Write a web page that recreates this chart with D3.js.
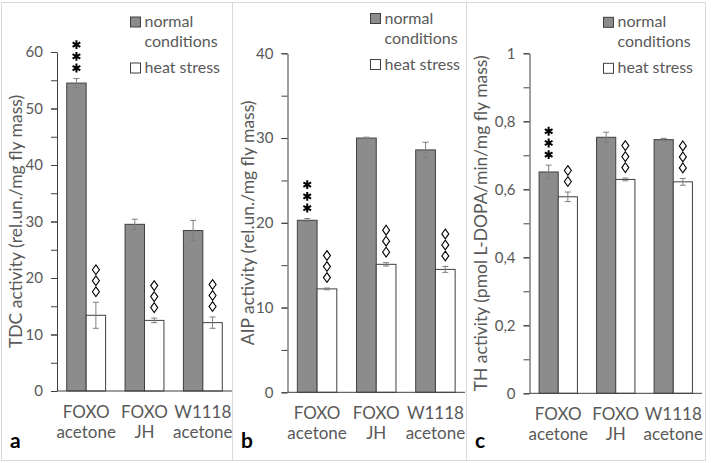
<!DOCTYPE html>
<html>
<head>
<meta charset="utf-8">
<script src="https://cdn.jsdelivr.net/npm/d3@7"></script>
<style>
	body { margin: 0; background: #fff; }
	svg { display: block; font-family: Lato, sans-serif; }
</style>
</head>
<body>
<svg id="chart" width="711" height="463"></svg>
<script>
let groups = ['FOXO acetone', 'FOXO JH', 'W1118 acetone'];
let groupTop = ['FOXO', 'FOXO', 'W1118'];
let groupBottom = ['acetone', 'JH', 'acetone'];
let conditions = ['normal', 'heat'];

// TDC
let tdcNormal = [54.5, 29.5, 28.4];
let tdcNormalErr = [0.8, 0.9, 1.8];
let tdcHeat = [13.4, 12.5, 12.1];
let tdcHeatErr = [2.3, 0.4, 1.0];
let tdcTicks = [0, 10, 20, 30, 40, 50, 60];

// AIP
let aipNormal = [20.3, 30.0, 28.6];
let aipNormalErr = [0.2, 0.1, 0.9];
let aipHeat = [12.2, 15.1, 14.5];
let aipHeatErr = [0.1, 0.2, 0.35];
let aipTicks = [0, 10, 20, 30, 40];

// TH
let thNormal = [0.651, 0.753, 0.746];
let thNormalErr = [0.02, 0.015, 0.004];
let thHeat = [0.578, 0.629, 0.622];
let thHeatErr = [0.014, 0.004, 0.01];
let thTicks = [0, 0.2, 0.4, 0.6, 0.8, 1];

// significance marks: stars vs. FOXO acetone normal, diamonds vs. normal conditions
let starsNormal = [3, 0, 0];
let diamondsTdc = [3, 3, 3];
let diamondsAip = [3, 3, 3];
let diamondsTh = [2, 3, 3];

let panels = [
	{letter: 'a', label: 'TDC activity (rel.un./mg fly mass)',
		normal: tdcNormal, normalErr: tdcNormalErr, heat: tdcHeat, heatErr: tdcHeatErr,
		ticks: tdcTicks, minor: 5, diamonds: diamondsTdc, fmt: d => d,
		box: [1.5, 232.5], left: 57, right: 232, top: 52, bottom: 391, labelX: 21.5,
		legend: [130.5, 17]},
	{letter: 'b', label: 'AIP activity (rel.un./mg fly mass)',
		normal: aipNormal, normalErr: aipNormalErr, heat: aipHeat, heatErr: aipHeatErr,
		ticks: aipTicks, minor: 5, diamonds: diamondsAip, fmt: d => d,
		box: [232.5, 466.5], left: 287.5, right: 465, top: 53.3, bottom: 392.3, labelX: 254,
		legend: [370.5, 13.5]},
	{letter: 'c', label: 'TH activity (pmol L-DOPA/min/mg fly mass)',
		normal: thNormal, normalErr: thNormalErr, heat: thHeat, heatErr: thHeatErr,
		ticks: thTicks, minor: 0.1, diamonds: diamondsTh, fmt: d => String(d).replace('.', ','),
		box: [466.5, 705.5], left: 529.5, right: 702, top: 53.3, bottom: 393.3, labelX: 487,
		legend: [603.5, 17.3]}
];

let svg = d3.select('#chart');
let textColor = '#595959';
let fills = {normal: '#8c8c8c', heat: '#ffffff'};

let lozenge = {
	draw: function(ctx, size) {
		let h = Math.sqrt(size);
		let w = h * 0.36;
		ctx.moveTo(0, -h / 2);
		ctx.lineTo(w, 0);
		ctx.lineTo(0, h / 2);
		ctx.lineTo(-w, 0);
		ctx.closePath();
	}
};

function drawPanel(p) {
	let g = svg.append('g');

	g.append('rect')
		.attr('x', p.box[0])
		.attr('y', 2.5)
		.attr('width', p.box[1] - p.box[0])
		.attr('height', 458)
		.attr('fill', 'none')
		.attr('stroke', '#d9d9d9');

	let yMax = p.ticks[p.ticks.length - 1];
	let y = d3.scaleLinear().domain([0, yMax]).range([p.bottom, p.top]);
	let x0 = d3.scaleBand().domain(groups).range([p.left, p.right])
		.paddingInner(1 / 3).paddingOuter(1 / 6);
	let x1 = d3.scaleBand().domain(conditions).range([0, x0.bandwidth()]);

	let rows = groups.map((name, i) => ({
		name: name,
		bars: [
			{key: 'normal', v: p.normal[i], e: p.normalErr[i], marks: starsNormal[i], kind: 'star'},
			{key: 'heat', v: p.heat[i], e: p.heatErr[i], marks: p.diamonds[i], kind: 'diamond'}
		]
	}));

	let grp = g.selectAll('g.group')
		.data(rows)
		.enter()
		.append('g')
		.attr('class', 'group')
		.attr('transform', d => 'translate(' + x0(d.name) + ',0)');

	let bar = grp.selectAll('g.bar')
		.data(d => d.bars)
		.enter()
		.append('g')
		.attr('class', 'bar');

	bar.append('rect')
		.attr('x', d => x1(d.key))
		.attr('y', d => y(d.v))
		.attr('width', x1.bandwidth())
		.attr('height', d => p.bottom - y(d.v))
		.attr('fill', d => fills[d.key])
		.attr('stroke', '#404040')
		.attr('stroke-width', 1);

	// error bars
	let cx = d => x1(d.key) + x1.bandwidth() / 2;
	bar.append('path')
		.attr('d', d => {
			let t = y(d.v + d.e), b = y(d.v - d.e), c = cx(d);
			return 'M' + c + ',' + t + 'V' + b + 'M' + (c - 3) + ',' + t + 'H' + (c + 3) + 'M' + (c - 3) + ',' + b + 'H' + (c + 3);
		})
		.attr('fill', 'none')
		.attr('stroke', '#7f7f7f')
		.attr('stroke-width', 1);

	// significance marks
	bar.each(function(d) {
		let sel = d3.select(this);
		let base = y(d.v + d.e);
		let sym = d.kind === 'star'
			? d3.symbol().type(d3.symbolAsterisk).size(55)
			: d3.symbol().type(lozenge).size(95);
		let step = d.kind === 'star' ? 11.7 : 11;
		d3.range(d.marks).forEach(k => {
			sel.append('path')
				.attr('d', sym())
				.attr('transform', 'translate(' + cx(d) + ',' + (base - 10.5 - step * k) + ')')
				.attr('fill', 'none')
				.attr('stroke', '#000')
				.attr('stroke-width', d.kind === 'star' ? 2 : 1.1);
		});
	});

	// y axis
	let minorTicks = d3.range(0, yMax + 1e-9, p.minor);
	let yMinor = g.append('g')
		.attr('transform', 'translate(' + p.left + ',0)')
		.call(d3.axisLeft(y).tickValues(minorTicks).tickSize(6).tickFormat(''));
	yMinor.select('.domain').remove();
	yMinor.selectAll('line').attr('stroke', '#404040');

	let yAxis = g.append('g')
		.attr('transform', 'translate(' + p.left + ',0)')
		.call(d3.axisLeft(y).tickValues(p.ticks).tickSize(6).tickSizeOuter(0).tickPadding(8).tickFormat(p.fmt));
	yAxis.select('.domain').attr('stroke', '#404040');
	yAxis.selectAll('line').attr('stroke', '#404040');
	yAxis.selectAll('text')
		.attr('fill', textColor)
		.style('font-size', '15px')
		.style('font-family', 'Lato, sans-serif');

	// x axis line
	g.append('line')
		.attr('x1', p.left)
		.attr('x2', p.right)
		.attr('y1', p.bottom)
		.attr('y2', p.bottom)
		.attr('stroke', '#404040');

	let xl = g.selectAll('text.xl')
		.data(groups)
		.enter()
		.append('text')
		.attr('class', 'xl')
		.attr('text-anchor', 'middle')
		.attr('fill', textColor)
		.style('font-size', '17px');
	xl.append('tspan')
		.attr('x', d => x0(d) + x0.bandwidth() / 2)
		.attr('y', p.bottom + 27)
		.text((d, i) => groupTop[i]);
	xl.append('tspan')
		.attr('x', d => x0(d) + x0.bandwidth() / 2)
		.attr('y', p.bottom + 47)
		.text((d, i) => groupBottom[i]);

	// y label
	g.append('text')
		.attr('transform', 'translate(' + p.labelX + ',' + ((p.top + p.bottom) / 2) + ') rotate(-90)')
		.attr('text-anchor', 'middle')
		.attr('fill', textColor)
		.style('font-size', '17.5px')
		.text(p.label);

	// panel letter
	g.append('text')
		.attr('x', p.box[0] + 8.5)
		.attr('y', 448)
		.attr('fill', '#000')
		.style('font-size', '21px')
		.style('font-weight', 'bold')
		.text(p.letter);

	// legend
	let lx = p.legend[0], ly = p.legend[1];
	let leg = g.append('g').attr('transform', 'translate(' + lx + ',' + ly + ')');
	leg.append('rect').attr('x', 0).attr('y', 0).attr('width', 10).attr('height', 10)
		.attr('fill', fills.normal).attr('stroke', '#404040');
	leg.append('rect').attr('x', 0).attr('y', 46).attr('width', 10).attr('height', 10)
		.attr('fill', fills.heat).attr('stroke', '#404040');
	let lt = leg.append('text').attr('fill', textColor).style('font-size', '16px');
	lt.append('tspan').attr('x', 14).attr('y', 10).text('normal');
	lt.append('tspan').attr('x', 14).attr('y', 30).text('conditions');
	leg.append('text').attr('x', 14).attr('y', 56).attr('fill', textColor)
		.style('font-size', '16px').text('heat stress');
}

panels.forEach(drawPanel);
</script>
</body>
</html>
